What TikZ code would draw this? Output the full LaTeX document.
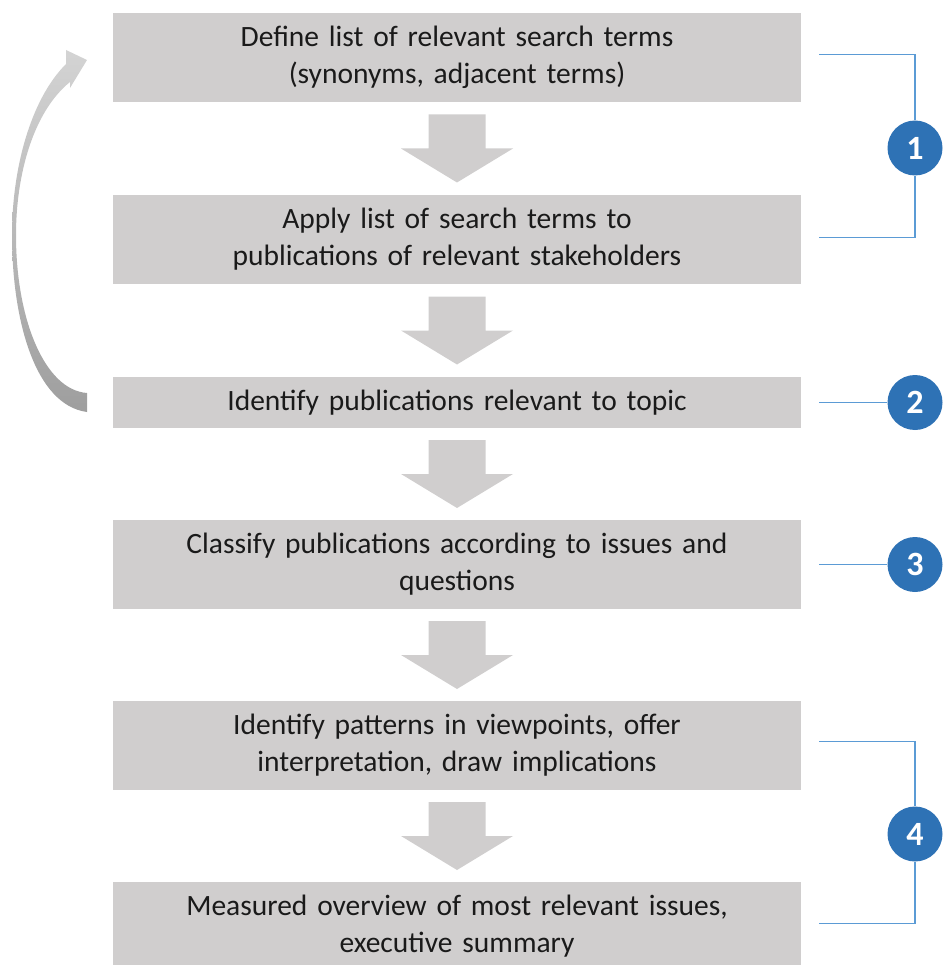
\documentclass[tikz,border=0pt]{standalone}
\usepackage{fontspec}
\setmainfont{Carlito}[WordSpace=0.75]
\usetikzlibrary{calc}
\definecolor{boxgray}{HTML}{D0CECE}
\definecolor{bracketblue}{HTML}{5B9BD5}
\definecolor{circblue}{HTML}{2E72B5}
\definecolor{txt}{HTML}{1A1A1A}
\newcommand\flowarrow[2]{%
  \path ($(#1.south)!0.5!(#2.north)$) coordinate (fa-mid);
  \fill[boxgray] ($(fa-mid)+(-28.5,-34)$) -- ++(57,0) -- ++(0,34) -- ++(27.5,0)
    -- ($(fa-mid)+(0,34)$) -- ($(fa-mid)+(-56,0)$) -- ++(27.5,0) -- cycle;}
\begin{document}
\begin{tikzpicture}[x=1pt,y=-1pt,
  stepbox/.style={fill=boxgray, minimum width=688pt, minimum height=89pt,
    text width=680pt, align=center, inner sep=0pt, text=txt,
    font=\fontsize{29.5}{37}\selectfont},
  numcirc/.style={circle, fill=circblue, minimum size=55pt, inner sep=0pt,
    text=white, font=\fontsize{34}{34}\selectfont\bfseries},
  bline/.style={bracketblue, line width=1.3pt}]
\useasboundingbox (0,0) rectangle (943,965);
\clip (0,0) rectangle (943,965);

\node[stepbox] (b1) at (457,57.5) {Define list of relevant search terms\\(synonyms, adjacent terms)};
\node[stepbox] (b2) at (457,239.5) {Apply list of search terms to\\publications of relevant stakeholders};
\node[stepbox, minimum height=51pt] (b3) at (457,402.5) {Identify publications relevant to topic};
\node[stepbox] (b4) at (457,564.5) {Classify publications according to issues and\\questions};
\node[stepbox] (b5) at (457,745.5) {Identify patterns in viewpoints, offer\\interpretation, draw implications};
\node[stepbox] (b6) at (457,926.5) {Measured overview of most relevant issues,\\executive summary};

\flowarrow{b1}{b2}
\flowarrow{b2}{b3}
\flowarrow{b3}{b4}
\flowarrow{b4}{b5}
\flowarrow{b5}{b6}

% numbered circles
\node[numcirc] (c1) at (915,148) {1};
\node[numcirc] (c2) at (915,402.5) {2};
\node[numcirc] (c3) at (915,564.5) {3};
\node[numcirc] (c4) at (915,834) {4};

% brackets
\draw[bline] ($(b1.east)+(18,-3)$) -| (c1.north);
\draw[bline] ($(b2.east)+(18,-2)$) -| (c1.south);
\draw[bline] ($(b3.east)+(18,0)$) -- (c2.west);
\draw[bline] ($(b4.east)+(18,0)$) -- (c3.west);
\draw[bline] ($(b5.east)+(18,-4)$) -| (c4.north);
\draw[bline] ($(b6.east)+(18,-3)$) -| (c4.south);

% curved feedback arrow
\shade[top color=black!17, middle color=black!9, bottom color=black!38]
  (66,64) .. controls (30,100) and (12,170) .. (12,235)
  .. controls (12,320) and (35,405) .. (87,412)
  -- (87,393) .. controls (45,390) and (16,320) .. (16,235)
  .. controls (16,175) and (33,112) .. (70,82)
  -- (70,88) -- (87,60) -- (66,50) -- cycle;
\end{tikzpicture}
\end{document}
